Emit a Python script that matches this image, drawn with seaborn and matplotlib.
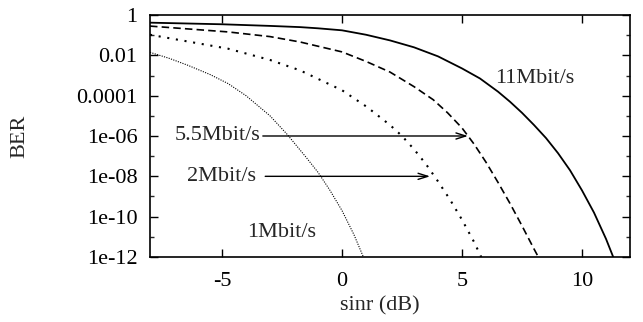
import pandas as pd
import matplotlib
matplotlib.use("Agg")
import matplotlib.pyplot as plt
from matplotlib.ticker import NullFormatter, NullLocator
import seaborn as sns

# values (sinr in dB, bit error rate)
sinr_11 = [-8, -5, -3, -1.75, -1, 0, 1, 2, 3, 4, 5, 5.75, 6.5, 7, 7.5, 8,
           8.5, 9, 9.5, 10, 10.5, 11, 11.3]
ber_11 = [0.417, 0.347, 0.288, 0.251, 0.219, 0.174, 0.105, 0.055, 0.025,
          8.9e-3, 2.24e-3, 7.1e-4, 1.58e-4, 5e-5, 1.41e-5, 3.5e-6, 7.9e-7,
          1.41e-7, 2e-8, 2e-9, 1.58e-10, 7.9e-12, 1e-12]

sinr_55 = [-8, -4.75, -3, -1.75, 0, 1, 2, 3, 3.8, 4.4, 5, 5.5, 6, 6.5, 7,
           7.5, 8, 8.18]
ber_55 = [0.282, 0.145, 0.085, 0.046, 0.0148, 5.0e-3, 1.48e-3, 2.8e-4,
          6.3e-5, 1.41e-5, 2.5e-6, 4e-7, 5e-8, 5e-9, 4.5e-10, 3.5e-11,
          2.5e-12, 1e-12]

sinr_2 = [-8, -4.75, -3, -1.75, 0, 1.03, 2, 2.5, 3, 3.5, 4, 4.5, 5, 5.5, 5.8]
ber_2 = [0.105, 0.0214, 5.9e-3, 1.8e-3, 1.86e-4, 2.8e-5, 3.5e-6, 1e-6,
         2.2e-7, 4e-8, 5.6e-9, 7e-10, 7e-11, 5.6e-12, 1e-12]

sinr_1 = [-8, -7.2, -6.42, -5.5, -4.75, -4, -3, -2.3, -1.5, -1, -0.5, 0,
          0.5, 0.89]
ber_1 = [0.0141, 7.1e-3, 3.2e-3, 1.12e-3, 4e-4, 1e-4, 1e-5, 1.26e-6, 8.9e-8,
         1.58e-8, 2e-9, 2e-10, 1.26e-11, 1e-12]

rate_labels = ["11Mbit/s", "5.5Mbit/s", "2Mbit/s", "1Mbit/s"]
x_ticks = [-5, 0, 5, 10]
y_ticks = [1, 1e-2, 1e-4, 1e-6, 1e-8, 1e-10, 1e-12]
y_tick_labels = ["1", "0.01", "0.0001", "1e-06", "1e-08", "1e-10", "1e-12"]
y_minor = [1e-1, 1e-3, 1e-5, 1e-7, 1e-9, 1e-11]

sns.set_style("ticks")
plt.rcParams["font.family"] = ["Liberation Serif", "DejaVu Serif"]
plt.rcParams["axes.unicode_minus"] = False

fig = plt.figure(figsize=(6.43, 3.22), dpi=100)
ax = fig.add_axes([0.2333, 0.2019, 0.7465, 0.7515])

curves = [
    (sinr_11, ber_11, dict(linestyle="-", linewidth=1.3)),
    (sinr_55, ber_55, dict(linestyle=(0, (4.5, 2.5)), linewidth=1.2)),
    (sinr_2, ber_2, dict(linestyle=(0, (1, 3.2)), linewidth=1.5)),
    (sinr_1, ber_1, dict(linestyle=(0, (1, 1.2)), linewidth=0.8)),
]
for x, y, style in curves:
    df = pd.DataFrame({"sinr": x, "ber": y})
    sns.lineplot(data=df, x="sinr", y="ber", ax=ax, color="black",
                 estimator=None, sort=False, **style)

ax.set_yscale("log")
ax.set_xlim(-8, 12)
ax.set_ylim(1e-12, 1)

ax.set_xticks(x_ticks)
ax.set_xticklabels([str(t) for t in x_ticks])
ax.xaxis.set_minor_locator(NullLocator())
ax.set_yticks(y_ticks)
ax.set_yticklabels(y_tick_labels)
ax.set_yticks(y_minor, minor=True)
ax.yaxis.set_minor_formatter(NullFormatter())

ax.tick_params(which="major", direction="in", length=5.5, width=1.0,
               top=True, right=True, labelsize=16, pad=9, colors="black")
ax.tick_params(axis="x", which="major", pad=11)
ax.tick_params(axis="y", which="minor", direction="in", length=3, width=1.0,
               left=True, right=True)
for side in ax.spines.values():
    side.set_linewidth(1.2)
    side.set_color("black")

ax.set_xlabel("sinr (dB)", fontsize=16, va="center")
ax.xaxis.set_label_coords(0.479, -0.203)
ax.set_ylabel("BER", fontsize=16, va="center")
ax.yaxis.set_label_coords(-0.271, 0.5)

ax.text(6.38, 7.5e-4, rate_labels[0], fontsize=16, va="center", ha="left")
ax.text(-6.96, 1e-6, rate_labels[1], fontsize=16, va="center", ha="left")
ax.text(-6.46, 1e-8, rate_labels[2], fontsize=16, va="center", ha="left")
ax.text(-3.96, 1.7e-11, rate_labels[3], fontsize=16, va="center", ha="left")

arrow = dict(arrowstyle="->,head_length=0.7,head_width=0.22", color="black",
             lw=1.0, shrinkA=0, shrinkB=0)
ax.annotate("", xy=(5.25, 1e-6), xytext=(-3.3, 1e-6), arrowprops=arrow)
ax.annotate("", xy=(3.67, 1e-8), xytext=(-3.2, 1e-8), arrowprops=arrow)

fig.savefig("out.png", dpi=100)
